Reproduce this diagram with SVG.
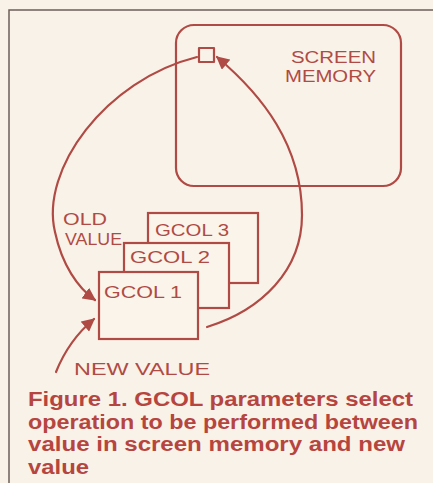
<svg xmlns="http://www.w3.org/2000/svg" width="433" height="483" viewBox="0 0 433 483">
<defs>
<style>
.ln{fill:none;stroke:#b04a44;stroke-width:2.2;stroke-linecap:round;stroke-linejoin:round}
.box{fill:#faf4ea;stroke:#b04a44;stroke-width:2.2}
.hw{font-family:"Liberation Sans",Arial,sans-serif;fill:#b04a44;font-size:16px}
.cap{font-family:"Liberation Sans",Arial,sans-serif;fill:#b6453f;font-size:19.5px;font-weight:bold}
</style>
<marker id="ah" viewBox="0 0 10 10" refX="9" refY="5" markerWidth="6" markerHeight="6" orient="auto" markerUnits="strokeWidth">
<path d="M0,0 L10,5 L0,10 z" fill="#b04a44"/>
</marker>
</defs>
<rect width="433" height="483" fill="#f9f2e8"/>
<path d="M9,483 V10 H433" fill="none" stroke="#6e5e58" stroke-width="1.5"/>
<g id="screen-memory">
<rect x="176" y="25" width="225" height="161" rx="18" class="ln"/>
<text class="hw" x="291" y="63" textLength="85" lengthAdjust="spacingAndGlyphs" font-size="18">SCREEN</text>
<text class="hw" x="285" y="82" textLength="91" lengthAdjust="spacingAndGlyphs" font-size="18">MEMORY</text>
</g>
<g id="pixel">
<rect x="199" y="48" width="15" height="14" class="ln"/>
</g>
<g id="gcol3">
<rect x="148" y="213" width="110" height="70" class="box"/>
<text class="hw" x="155" y="236" textLength="74" lengthAdjust="spacingAndGlyphs">GCOL 3</text>
</g>
<g id="gcol2">
<rect x="124" y="243" width="105" height="65" class="box"/>
<text class="hw" x="130" y="263" textLength="80" lengthAdjust="spacingAndGlyphs" font-size="14">GCOL 2</text>
</g>
<g id="gcol1">
<rect x="99" y="272" width="99" height="67" class="box"/>
<text class="hw" x="104" y="298" textLength="78" lengthAdjust="spacingAndGlyphs" font-size="17">GCOL 1</text>
</g>
<g id="connectors">
<path class="ln" d="M197,57 C105,80 40,170 55,232 C62,265 78,288 95,300" marker-end="url(#ah)"/>
<path class="ln" d="M207,327 C262,310 302,270 302,215 C302,145 262,95 217,57" marker-end="url(#ah)"/>
<path class="ln" d="M56,372 C64,352 76,334 94,319" marker-end="url(#ah)"/>
</g>
<g id="labels">
<text class="hw" x="63" y="225" textLength="44" lengthAdjust="spacingAndGlyphs" font-size="14">OLD</text>
<text class="hw" x="65" y="245" textLength="57" lengthAdjust="spacingAndGlyphs" font-size="14">VALUE</text>
<text class="hw" x="74" y="375" textLength="136" lengthAdjust="spacingAndGlyphs" font-size="17">NEW VALUE</text>
</g>
<g id="caption">
<text class="cap" x="28" y="406" textLength="385" lengthAdjust="spacingAndGlyphs">Figure 1. GCOL parameters select</text>
<text class="cap" x="28" y="428.5" textLength="390" lengthAdjust="spacingAndGlyphs">operation to be performed between</text>
<text class="cap" x="28" y="451" textLength="377" lengthAdjust="spacingAndGlyphs">value in screen memory and new</text>
<text class="cap" x="28" y="473.5" textLength="61" lengthAdjust="spacingAndGlyphs">value</text>
</g>
</svg>
